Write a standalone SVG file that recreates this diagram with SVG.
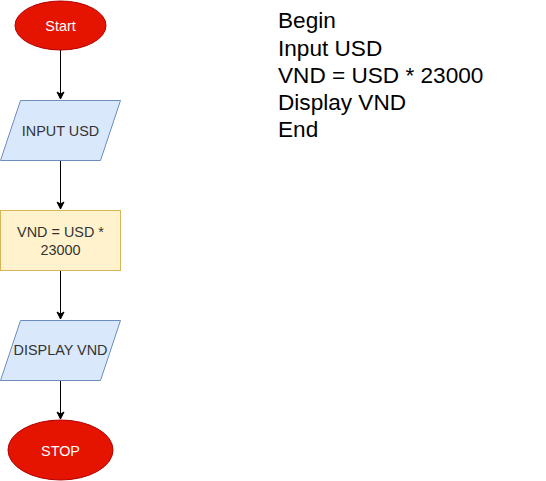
<svg xmlns="http://www.w3.org/2000/svg" width="546" height="481" viewBox="0 0 546 481">
<defs>
<marker id="arr" markerWidth="10" markerHeight="10" refX="8" refY="5" orient="auto" markerUnits="userSpaceOnUse">
<path d="M1,1.5 L8,5 L1,8.5 L3,5 Z" fill="#000" stroke="#000" stroke-width="1"/>
</marker>
</defs>
<style>
.term{fill:#e51400;stroke:#b20000;stroke-width:1}
.io{fill:#dae8fc;stroke:#6c8ebf;stroke-width:1}
.proc{fill:#fff2cc;stroke:#d6b656;stroke-width:1}
.lbl{font-family:"Liberation Sans",Arial,sans-serif;font-size:14.4px;text-anchor:middle;fill:#333333}
.wl{fill:#ffffff}
.edge{stroke:#000;stroke-width:1;fill:none}
.pc{font-family:"Liberation Sans",Arial,sans-serif;font-size:22.6px;fill:#000}
</style>
<g id="connectors">
<line class="edge" x1="60.5" y1="50" x2="60.5" y2="99" marker-end="url(#arr)"/>
<line class="edge" x1="60.5" y1="160" x2="60.5" y2="209" marker-end="url(#arr)"/>
<line class="edge" x1="60.5" y1="270" x2="60.5" y2="319" marker-end="url(#arr)"/>
<line class="edge" x1="60.5" y1="380" x2="60.5" y2="419" marker-end="url(#arr)"/>
</g>
<g id="start">
<ellipse class="term" cx="60.5" cy="25.5" rx="45.5" ry="24.5"/>
<text class="lbl wl" x="60.5" y="30.5">Start</text>
</g>
<g id="input">
<polygon class="io" points="20.5,100.5 120.5,100.5 100.5,160.5 0.5,160.5"/>
<text class="lbl" x="60.5" y="135.5">INPUT USD</text>
</g>
<g id="process">
<rect class="proc" x="0.5" y="210.5" width="120" height="60"/>
<text class="lbl" x="60.5" y="237.3">VND = USD *</text>
<text class="lbl" x="60.5" y="255">23000</text>
</g>
<g id="display">
<polygon class="io" points="20.5,320.5 120.5,320.5 100.5,380.5 0.5,380.5"/>
<text class="lbl" x="60.5" y="355">DISPLAY VND</text>
</g>
<g id="stop">
<ellipse class="term" cx="60.5" cy="450" rx="52.5" ry="30"/>
<text class="lbl wl" x="60.5" y="455.5">STOP</text>
</g>
<g id="pseudocode">
<text class="pc" x="278" y="28.3">Begin</text>
<text class="pc" x="278" y="55.5">Input USD</text>
<text class="pc" x="278" y="83">VND = USD * 23000</text>
<text class="pc" x="278" y="110.3">Display VND</text>
<text class="pc" x="278" y="137.3">End</text>
</g>
</svg>
